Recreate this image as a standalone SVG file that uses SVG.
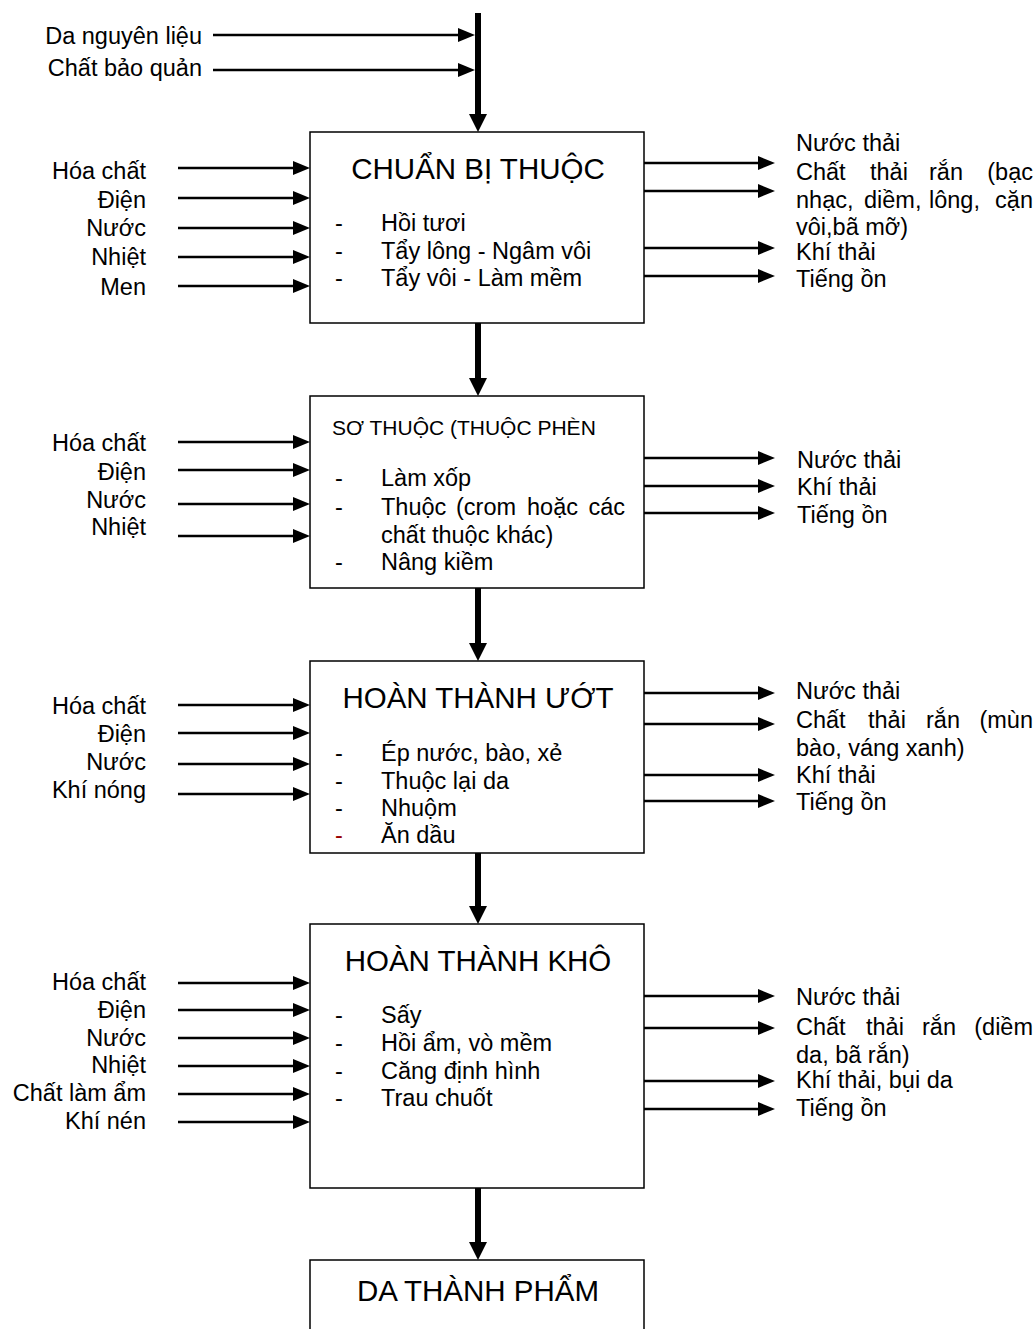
<svg xmlns="http://www.w3.org/2000/svg" width="1035" height="1329" viewBox="0 0 1035 1329">
<style>
.lbl{font-family:"Liberation Sans",Arial,sans-serif;font-size:23.5px;fill:#000}
.end{text-anchor:end}
.ttl{font-family:"Liberation Sans",Arial,sans-serif;font-size:29.5px;text-anchor:middle;fill:#000}
.sub{font-family:"Liberation Sans",Arial,sans-serif;font-size:21px;fill:#000}
.box{fill:#fff;stroke:#000;stroke-width:1.5}
.thin{stroke:#000;stroke-width:2.7;fill:none;marker-end:url(#ah)}
.thick{stroke:#000;stroke-width:6;fill:none;marker-end:url(#ahb)}
</style>
<defs>
<marker id="ah" viewBox="0 0 17 14" refX="6" refY="7" markerWidth="17" markerHeight="14" markerUnits="userSpaceOnUse" orient="auto"><path d="M0,0 L17,7 L0,14 Z" fill="#000"/></marker>
<marker id="ahb" viewBox="0 0 18 18" refX="8" refY="9" markerWidth="18" markerHeight="18" markerUnits="userSpaceOnUse" orient="auto"><path d="M0,0 L18,9 L0,18 Z" fill="#000"/></marker>
</defs>
<rect width="1035" height="1329" fill="#fff"/>

<g id="connectors">
<path class="thick" d="M478,13 V122"/>
<path class="thin" d="M213,35 H464"/>
<path class="thin" d="M213,70 H464"/>
<path class="thick" d="M478,323 V386"/>
<path class="thick" d="M478,588 V651"/>
<path class="thick" d="M478,853 V914"/>
<path class="thick" d="M478,1188 V1250"/>
<path class="thin" d="M178,168 H299"/>
<path class="thin" d="M178,198 H299"/>
<path class="thin" d="M178,228 H299"/>
<path class="thin" d="M178,257 H299"/>
<path class="thin" d="M178,286 H299"/>
<path class="thin" d="M644,163 H764"/>
<path class="thin" d="M644,191 H764"/>
<path class="thin" d="M644,248 H764"/>
<path class="thin" d="M644,276 H764"/>
<path class="thin" d="M178,442 H299"/>
<path class="thin" d="M178,470 H299"/>
<path class="thin" d="M178,504 H299"/>
<path class="thin" d="M178,536 H299"/>
<path class="thin" d="M644,458 H764"/>
<path class="thin" d="M644,486 H764"/>
<path class="thin" d="M644,513 H764"/>
<path class="thin" d="M178,705 H299"/>
<path class="thin" d="M178,733 H299"/>
<path class="thin" d="M178,764 H299"/>
<path class="thin" d="M178,794 H299"/>
<path class="thin" d="M644,693 H764"/>
<path class="thin" d="M644,724 H764"/>
<path class="thin" d="M644,775 H764"/>
<path class="thin" d="M644,801 H764"/>
<path class="thin" d="M178,983 H299"/>
<path class="thin" d="M178,1010 H299"/>
<path class="thin" d="M178,1038 H299"/>
<path class="thin" d="M178,1066 H299"/>
<path class="thin" d="M178,1094 H299"/>
<path class="thin" d="M178,1122 H299"/>
<path class="thin" d="M644,996 H764"/>
<path class="thin" d="M644,1028 H764"/>
<path class="thin" d="M644,1081 H764"/>
<path class="thin" d="M644,1109 H764"/>
</g>

<g id="top-inputs">
<text class="lbl end" x="202" y="44">Da nguyên liệu</text>
<text class="lbl end" x="202" y="76">Chất bảo quản</text>
</g>

<g id="node-chuan-bi-thuoc">
<rect class="box" x="310" y="132" width="334" height="191"/>
<text class="ttl" x="478" y="179">CHUẨN BỊ THUỘC</text>
<text class="lbl" x="335" y="231">-</text><text class="lbl" x="381" y="231">Hồi tươi</text>
<text class="lbl" x="335" y="259">-</text><text class="lbl" x="381" y="259">Tẩy lông - Ngâm vôi</text>
<text class="lbl" x="335" y="286">-</text><text class="lbl" x="381" y="286">Tẩy vôi - Làm mềm</text>
</g>
<g id="in-1">
<text class="lbl end" x="146" y="179">Hóa chất</text>
<text class="lbl end" x="146" y="208">Điện</text>
<text class="lbl end" x="146" y="236">Nước</text>
<text class="lbl end" x="146" y="265">Nhiệt</text>
<text class="lbl end" x="146" y="295">Men</text>
</g>
<g id="out-1">
<text class="lbl" x="796" y="151">Nước thải</text>
<text class="lbl" y="180"><tspan x="796">Chất</tspan><tspan x="870">thải</tspan><tspan x="929">rắn</tspan></text><text class="lbl end" x="1033" y="180">(bạc</text>
<text class="lbl" y="208"><tspan x="796">nhạc,</tspan><tspan x="864">diềm,</tspan><tspan x="929">lông,</tspan></text><text class="lbl end" x="1033" y="208">cặn</text>
<text class="lbl" x="796" y="235">vôi,bã mỡ)</text>
<text class="lbl" x="796" y="260">Khí thải</text>
<text class="lbl" x="796" y="287">Tiếng ồn</text>
</g>

<g id="node-so-thuoc">
<rect class="box" x="310" y="396" width="334" height="192"/>
<text class="sub" x="332" y="435">SƠ THUỘC (THUỘC PHÈN</text>
<text class="lbl" x="335" y="486">-</text><text class="lbl" x="381" y="486">Làm xốp</text>
<text class="lbl" x="335" y="515">-</text><text class="lbl" y="515"><tspan x="381">Thuộc</tspan><tspan x="456">(crom</tspan><tspan x="527">hoặc</tspan></text><text class="lbl end" x="625" y="515">các</text>
<text class="lbl" x="381" y="543">chất thuộc khác)</text>
<text class="lbl" x="335" y="570">-</text><text class="lbl" x="381" y="570">Nâng kiềm</text>
</g>
<g id="in-2">
<text class="lbl end" x="146" y="451">Hóa chất</text>
<text class="lbl end" x="146" y="480">Điện</text>
<text class="lbl end" x="146" y="508">Nước</text>
<text class="lbl end" x="146" y="535">Nhiệt</text>
</g>
<g id="out-2">
<text class="lbl" x="797" y="468">Nước thải</text>
<text class="lbl" x="797" y="495">Khí thải</text>
<text class="lbl" x="797" y="523">Tiếng ồn</text>
</g>

<g id="node-hoan-thanh-uot">
<rect class="box" x="310" y="661" width="334" height="192"/>
<text class="ttl" x="478" y="708">HOÀN THÀNH ƯỚT</text>
<text class="lbl" x="335" y="761">-</text><text class="lbl" x="381" y="761">Ép nước, bào, xẻ</text>
<text class="lbl" x="335" y="789">-</text><text class="lbl" x="381" y="789">Thuộc lại da</text>
<text class="lbl" x="335" y="816">-</text><text class="lbl" x="381" y="816">Nhuộm</text>
<text class="lbl" x="335" y="843" style="fill:#990000">-</text><text class="lbl" x="381" y="843">Ăn dầu</text>
</g>
<g id="in-3">
<text class="lbl end" x="146" y="714">Hóa chất</text>
<text class="lbl end" x="146" y="742">Điện</text>
<text class="lbl end" x="146" y="770">Nước</text>
<text class="lbl end" x="146" y="798">Khí nóng</text>
</g>
<g id="out-3">
<text class="lbl" x="796" y="699">Nước thải</text>
<text class="lbl" y="728"><tspan x="796">Chất</tspan><tspan x="868">thải</tspan><tspan x="926">rắn</tspan></text><text class="lbl end" x="1033" y="728">(mùn</text>
<text class="lbl" x="796" y="756">bào, váng xanh)</text>
<text class="lbl" x="796" y="783">Khí thải</text>
<text class="lbl" x="796" y="810">Tiếng ồn</text>
</g>

<g id="node-hoan-thanh-kho">
<rect class="box" x="310" y="924" width="334" height="264"/>
<text class="ttl" x="478" y="971">HOÀN THÀNH KHÔ</text>
<text class="lbl" x="335" y="1023">-</text><text class="lbl" x="381" y="1023">Sấy</text>
<text class="lbl" x="335" y="1051">-</text><text class="lbl" x="381" y="1051">Hồi ẩm, vò mềm</text>
<text class="lbl" x="335" y="1079">-</text><text class="lbl" x="381" y="1079">Căng định hình</text>
<text class="lbl" x="335" y="1106">-</text><text class="lbl" x="381" y="1106">Trau chuốt</text>
</g>
<g id="in-4">
<text class="lbl end" x="146" y="990">Hóa chất</text>
<text class="lbl end" x="146" y="1018">Điện</text>
<text class="lbl end" x="146" y="1046">Nước</text>
<text class="lbl end" x="146" y="1073">Nhiệt</text>
<text class="lbl end" x="146" y="1101">Chất làm ẩm</text>
<text class="lbl end" x="146" y="1129">Khí nén</text>
</g>
<g id="out-4">
<text class="lbl" x="796" y="1005">Nước thải</text>
<text class="lbl" y="1035"><tspan x="796">Chất</tspan><tspan x="866">thải</tspan><tspan x="922">rắn</tspan></text><text class="lbl end" x="1033" y="1035">(diềm</text>
<text class="lbl" x="796" y="1063">da, bã rắn)</text>
<text class="lbl" x="796" y="1088">Khí thải, bụi da</text>
<text class="lbl" x="796" y="1116">Tiếng ồn</text>
</g>

<g id="node-da-thanh-pham">
<rect class="box" x="310" y="1260" width="334" height="100"/>
<text class="ttl" x="478" y="1301">DA THÀNH PHẨM</text>
</g>
</svg>
